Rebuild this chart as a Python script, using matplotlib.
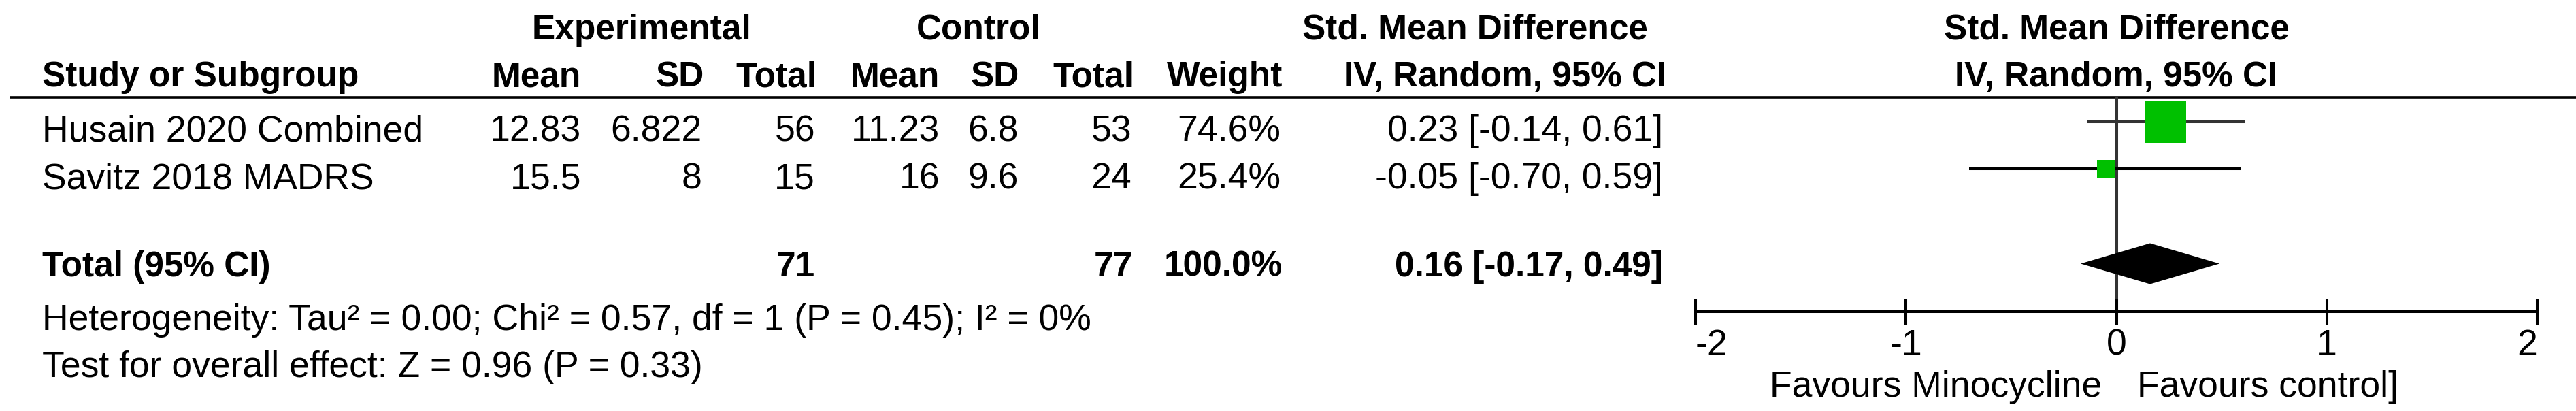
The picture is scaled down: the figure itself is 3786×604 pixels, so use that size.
import matplotlib
matplotlib.use('Agg')
import matplotlib.pyplot as plt
import matplotlib.transforms as mtransforms

plt.rcParams['font.family'] = ['Liberation Sans', 'DejaVu Sans']
plt.rcParams['axes.unicode_minus'] = False

# --- data ---
studies = ['Husain 2020 Combined', 'Savitz 2018 MADRS']
exp_mean = [12.83, 15.5]
exp_sd = [6.822, 8]
exp_n = [56, 15]
ctrl_mean = [11.23, 16]
ctrl_sd = [6.8, 9.6]
ctrl_n = [53, 24]
weights = [74.6, 25.4]
smd = [0.23, -0.05]
ci_lo = [-0.14, -0.70]
ci_hi = [0.61, 0.59]

total_exp_n = 71
total_ctrl_n = 77
total_weight = 100.0
total_smd = 0.16
total_lo = -0.17
total_hi = 0.49

het_text = 'Heterogeneity: Tau² = 0.00; Chi² = 0.57, df = 1 (P = 0.45); I² = 0%'
test_text = 'Test for overall effect: Z = 0.96 (P = 0.33)'
xticks = [-2, -1, 0, 1, 2]
favours = ['Favours Minocycline', 'Favours control]']

W, H = 3786, 604
fig = plt.figure(figsize=(W / 100, H / 100), dpi=100)
fig.patch.set_facecolor('white')

# background axes in pixel coordinates for the table part
bg = fig.add_axes([0, 0, 1, 1])
bg.set_xlim(0, W)
bg.set_ylim(H, 0)
bg.axis('off')

fs = 38.5
fsb = 37
green = '#00c000'
grey = '#333333'

# header
bg.text(943, 58, 'Experimental', fontsize=fsb, fontweight='bold', ha='center', va='baseline')
bg.text(1438, 58, 'Control', fontsize=fsb, fontweight='bold', ha='center', va='baseline')
bg.text(2168, 58, 'Std. Mean Difference', fontsize=fsb, fontweight='bold', ha='center', va='baseline')
bg.text(62, 127, 'Study or Subgroup', fontsize=fsb, fontweight='bold', ha='left', va='baseline')
for x, lab in zip([854, 1035, 1200, 1381, 1498, 1666, 1885],
                  ['Mean', 'SD', 'Total', 'Mean', 'SD', 'Total', 'Weight']):
    bg.text(x, 127, lab, fontsize=fsb, fontweight='bold', ha='right', va='baseline')
bg.text(2212, 127, 'IV, Random, 95% CI', fontsize=fsb, fontweight='bold', ha='center', va='baseline')
bg.plot([14, W], [143, 143], color='black', lw=2.6, solid_capstyle='butt')

# study rows
row_base = [207, 277]
for i, name in enumerate(studies):
    y = row_base[i]
    cells = [(854, f'{exp_mean[i]:g}'), (1032, f'{exp_sd[i]:g}'), (1198, f'{exp_n[i]}'),
             (1381, f'{ctrl_mean[i]:g}'), (1497, f'{ctrl_sd[i]:g}'), (1663, f'{ctrl_n[i]}'),
             (1882, f'{weights[i]:.1f}%'),
             (2444, f'{smd[i]:.2f} [{ci_lo[i]:.2f}, {ci_hi[i]:.2f}]')]
    bg.text(62, y, name, fontsize=fs, ha='left', va='baseline')
    for x, s in cells:
        bg.text(x, y, s, fontsize=fs, ha='right', va='baseline')

# total row
bg.text(62, 406, 'Total (95% CI)', fontsize=fsb, fontweight='bold', ha='left', va='baseline')
bg.text(1198, 406, f'{total_exp_n}', fontsize=fsb, fontweight='bold', ha='right', va='baseline')
bg.text(1665, 406, f'{total_ctrl_n}', fontsize=fsb, fontweight='bold', ha='right', va='baseline')
bg.text(1885, 406, f'{total_weight:.1f}%', fontsize=fsb, fontweight='bold', ha='right', va='baseline')
bg.text(2444, 406, f'{total_smd:.2f} [{total_lo:.2f}, {total_hi:.2f}]',
        fontsize=fsb, fontweight='bold', ha='right', va='baseline')

bg.text(62, 485, het_text, fontsize=fs, ha='left', va='baseline')
bg.text(62, 554, test_text, fontsize=fs, ha='left', va='baseline')

# --- forest plot axes ---
x0, x1 = 2492, 3729
ytop, ybot = 143, 458
row_px = 69.5
fax = fig.add_axes([x0 / W, (H - ybot) / H, (x1 - x0) / W, (ybot - ytop) / H])
fax.set_xlim(-2, 2)
fax.set_ylim((ybot - 179) / row_px, -(179 - ytop) / row_px)
fax.patch.set_alpha(0)
for side in ['top', 'left', 'right']:
    fax.spines[side].set_visible(False)
fax.spines['bottom'].set_linewidth(2.9)
fax.set_yticks([])
fax.set_xticks(xticks)
fax.set_xticklabels([str(t) for t in xticks], fontsize=fs)
fax.tick_params(axis='x', direction='inout', length=27.4, width=2.9, pad=4)
labs = fax.get_xticklabels()
labs[0].set_ha('left')
labs[-1].set_ha('right')

fax.axvline(0, color=grey, lw=2.9, zorder=1)

line_cols = [grey, 'black']
for i in range(len(studies)):
    fax.plot([ci_lo[i], ci_hi[i]], [i, i], color=line_cols[i], lw=2.9,
             solid_capstyle='butt', zorder=2)
    side_px = 61 * (weights[i] / max(weights)) ** 0.8
    fax.plot(smd[i], i, marker='s', ms=side_px * 0.72, mew=0, color=green,
             zorder=3, clip_on=False)

ty = len(studies) + 1
hh = 30 / row_px
fax.fill([total_lo, total_smd, total_hi, total_smd], [ty, ty - hh, ty, ty + hh],
         color='black', lw=0, zorder=3)

# column header above the plot and favours labels
tr = mtransforms.blended_transform_factory(fax.transData, bg.transData)
bg.text(0, 58, 'Std. Mean Difference', transform=tr, fontsize=fsb, fontweight='bold',
        ha='center', va='baseline')
bg.text(0, 127, 'IV, Random, 95% CI', transform=tr, fontsize=fsb, fontweight='bold',
        ha='center', va='baseline')
bg.text(-0.07, 583, favours[0], transform=tr, fontsize=fs, ha='right', va='baseline')
bg.text(0.10, 583, favours[1], transform=tr, fontsize=fs, ha='left', va='baseline')

fig.savefig('out.png', dpi=100, facecolor='white')
